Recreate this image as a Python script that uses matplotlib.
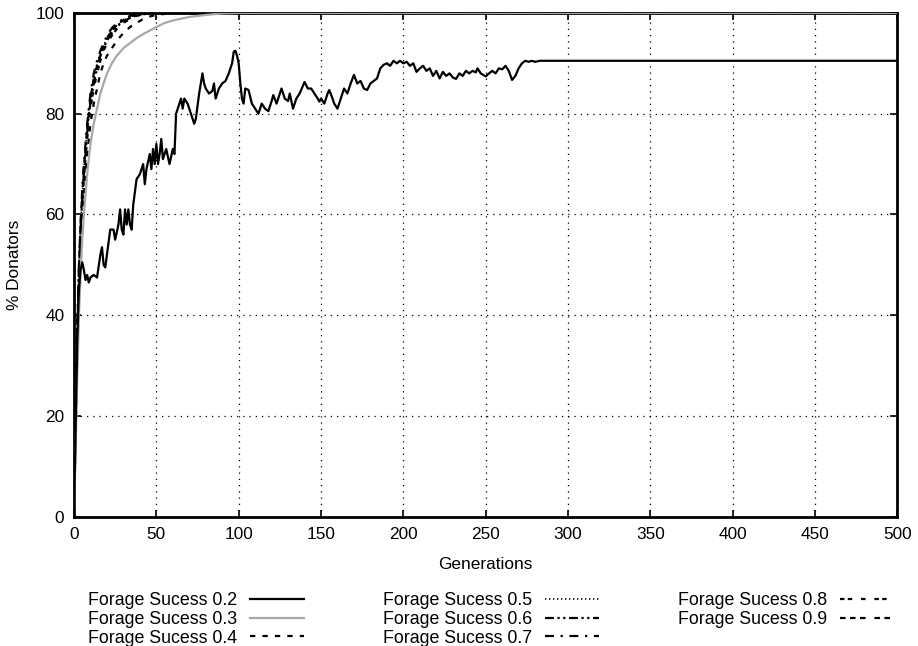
import matplotlib
matplotlib.use("Agg")
import matplotlib.pyplot as plt

plt.rcParams['font.family'] = ['Liberation Sans', 'DejaVu Sans']

# forage success 0.2, (generation, % donators)
fs02 = [(0, 0), (1, 18), (2, 35), (3, 45), (4, 49), (5, 50.5), (6, 49), (7, 47),
        (8, 48), (9, 46.5), (10, 47.5), (12, 48), (14, 47.5), (16, 52), (17, 53.5),
        (18, 50), (19, 49.5), (20, 52), (22, 57), (24, 57), (25, 55), (27, 58),
        (28, 61), (29, 57), (30, 56), (31, 61), (32, 58), (33, 61), (34, 58),
        (35, 57), (36, 62), (38, 67), (40, 68), (42, 70), (43, 66), (44, 69),
        (46, 72), (47, 69), (48, 73), (49, 70), (50, 74), (51, 70), (52, 72),
        (53, 75), (54, 71), (56, 73), (58, 70), (60, 73), (61, 72), (62, 80),
        (64, 82), (65, 83), (66, 81), (67, 83), (69, 82), (71, 80), (73, 78),
        (74, 79), (76, 84), (77, 86), (78, 88), (79, 86), (80, 85), (82, 84),
        (84, 84.5), (85, 86), (86, 83), (88, 85), (90, 86), (92, 86.5), (94, 88),
        (96, 90), (97, 92.3), (98, 92.5), (99, 91.5), (100, 90), (101, 86),
        (102, 83), (103, 82), (104, 85), (106, 84.7), (108, 82), (110, 81),
        (112, 80), (114, 82), (116, 81), (118, 80.5), (120, 82.5), (121, 83.7),
        (123, 82), (125, 84), (126, 85), (128, 83), (130, 82.5), (131, 84),
        (133, 81), (135, 83), (137, 84), (139, 85.5), (140, 86.3), (142, 85),
        (144, 85), (146, 84), (148, 83), (149, 82.4), (150, 83), (152, 82),
        (154, 84), (155, 84.7), (157, 83), (158, 82), (160, 81), (162, 83),
        (164, 85), (166, 84), (168, 86), (170, 87.7), (172, 86), (174, 86.5),
        (176, 85), (178, 84.7), (180, 86), (182, 86.5), (184, 87), (186, 89),
        (188, 89.7), (190, 90), (192, 89.5), (194, 90.5), (196, 90), (198, 90.5),
        (200, 90), (202, 90.3), (204, 89.5), (206, 90), (208, 88.3), (210, 89),
        (212, 89.5), (214, 88.5), (216, 89), (218, 87.5), (220, 88.5), (222, 87),
        (224, 88.3), (226, 87.5), (228, 88), (230, 87.2), (232, 86.9), (234, 88),
        (236, 87.5), (238, 88.5), (240, 88), (242, 88.5), (244, 88.2), (245, 89),
        (247, 88), (250, 87.4), (252, 88), (254, 88.5), (256, 88), (258, 89),
        (260, 88.8), (262, 89.5), (264, 88.5), (266, 86.7), (268, 87.5), (270, 89),
        (272, 90), (274, 90.5), (276, 90.3), (278, 90.5), (280, 90.3), (283, 90.5),
        (500, 90.5)]

# the faster runs, sampled at the same generations
gens = [0, 1, 2, 3, 4, 5, 6, 7, 8, 9, 10, 12, 14, 16, 18, 20, 23, 26, 30, 34, 38,
        42, 46, 50, 55, 60, 70, 80, 90, 100, 500]
fs03 = [0, 14, 28, 40, 48, 55, 60, 64, 68, 71, 74, 78, 81, 84, 86, 88, 90, 91.5, 93,
        94, 95, 95.8, 96.5, 97.2, 98, 98.5, 99.2, 99.6, 99.9, 100, 100]
fs04 = [0, 16, 32, 44, 52, 59, 64, 68, 72, 75, 78, 82, 85, 88, 90, 91.5, 93, 94.5, 96,
        97.2, 98, 98.8, 99.3, 99.6, 99.8, 100, 100, 100, 100, 100, 100]
fs05 = [0, 20, 37, 49, 57, 64, 69, 73, 77, 80, 83, 87, 90, 92, 93.5, 95, 96.5, 97.5,
        98.5, 99.2, 99.6, 99.8, 100, 100, 100, 100, 100, 100, 100, 100, 100]
fs06 = [0, 19, 36, 48, 57, 63, 68, 72, 76, 80, 82, 86, 89, 91.5, 93, 94.5, 96, 97.3,
        98.3, 99, 99.5, 99.8, 100, 100, 100, 100, 100, 100, 100, 100, 100]
fs07 = [0, 21, 38, 50, 58, 65, 70, 74, 78, 81, 84, 88, 90.5, 92.5, 94, 95.5, 97, 98,
        98.8, 99.4, 99.7, 99.9, 100, 100, 100, 100, 100, 100, 100, 100, 100]
fs08 = [0, 18, 35, 47, 56, 62, 67, 71, 75, 78, 81, 85, 88, 90.5, 92.5, 94, 95.5, 96.8,
        98, 98.8, 99.4, 99.7, 100, 100, 100, 100, 100, 100, 100, 100, 100]
fs09 = [0, 20, 37, 49, 58, 64, 69, 73, 77, 80, 83, 87, 89.5, 91.5, 93.5, 95, 96.5,
        97.6, 98.6, 99.2, 99.6, 99.9, 100, 100, 100, 100, 100, 100, 100, 100, 100]

fs = 12.4
fig = plt.figure(figsize=(9.18, 6.46), dpi=100)
ax = fig.add_axes([0.0806, 0.200, 0.897, 0.780])

g02 = [p[0] for p in fs02]
v02 = [p[1] for p in fs02]
ax.plot(g02, v02, color='black', lw=1.6, label='Forage Sucess 0.2', zorder=5)
ax.plot(gens, fs03, color='#a8a8a8', lw=1.6, label='Forage Sucess 0.3', zorder=4)
ax.plot(gens, fs04, color='black', lw=1.6, ls=(0, (2.4, 3.2)), label='Forage Sucess 0.4')
ax.plot(gens, fs05, color='black', lw=1.2, ls=(0, (0.8, 1.6)), label='Forage Sucess 0.5')
ax.plot(gens, fs06, color='black', lw=1.6, ls=(0, (4, 1.6, 1, 1.6, 1, 1.6)),
        label='Forage Sucess 0.6')
ax.plot(gens, fs07, color='black', lw=1.6, ls=(0, (4, 3, 1, 3)), label='Forage Sucess 0.7')
ax.plot(gens, fs08, color='black', lw=1.6, ls=(0, (2, 1.5, 2, 4, 2, 4)),
        label='Forage Sucess 0.8')
ax.plot(gens, fs09, color='black', lw=1.6, ls=(0, (2.5, 2, 2.5, 2, 2.5, 4)),
        label='Forage Sucess 0.9')

ax.set_xlim(0, 500)
ax.set_ylim(0, 100)
ax.set_xticks(range(0, 501, 50))
ax.set_yticks(range(0, 101, 20))
ax.grid(True, color='black', ls=(0, (1, 4)), lw=0.9)
ax.tick_params(direction='in', top=True, right=True, length=5, width=1.2,
               labelsize=fs, pad=7)
for s in ax.spines.values():
    s.set_linewidth(2)

ax.set_xlabel('Generations', fontsize=fs, labelpad=11)
ax.set_ylabel('% Donators', fontsize=fs, labelpad=10)

ax.legend(loc='upper left', bbox_to_anchor=(88 / 918, 1 - 592 / 646),
          bbox_transform=fig.transFigure, ncol=3, frameon=False,
          markerfirst=False, fontsize=12.8, handlelength=3.0, handletextpad=0.75,
          columnspacing=4.45, labelspacing=0.1, borderpad=0, borderaxespad=0)

fig.savefig('out.png', dpi=100)
